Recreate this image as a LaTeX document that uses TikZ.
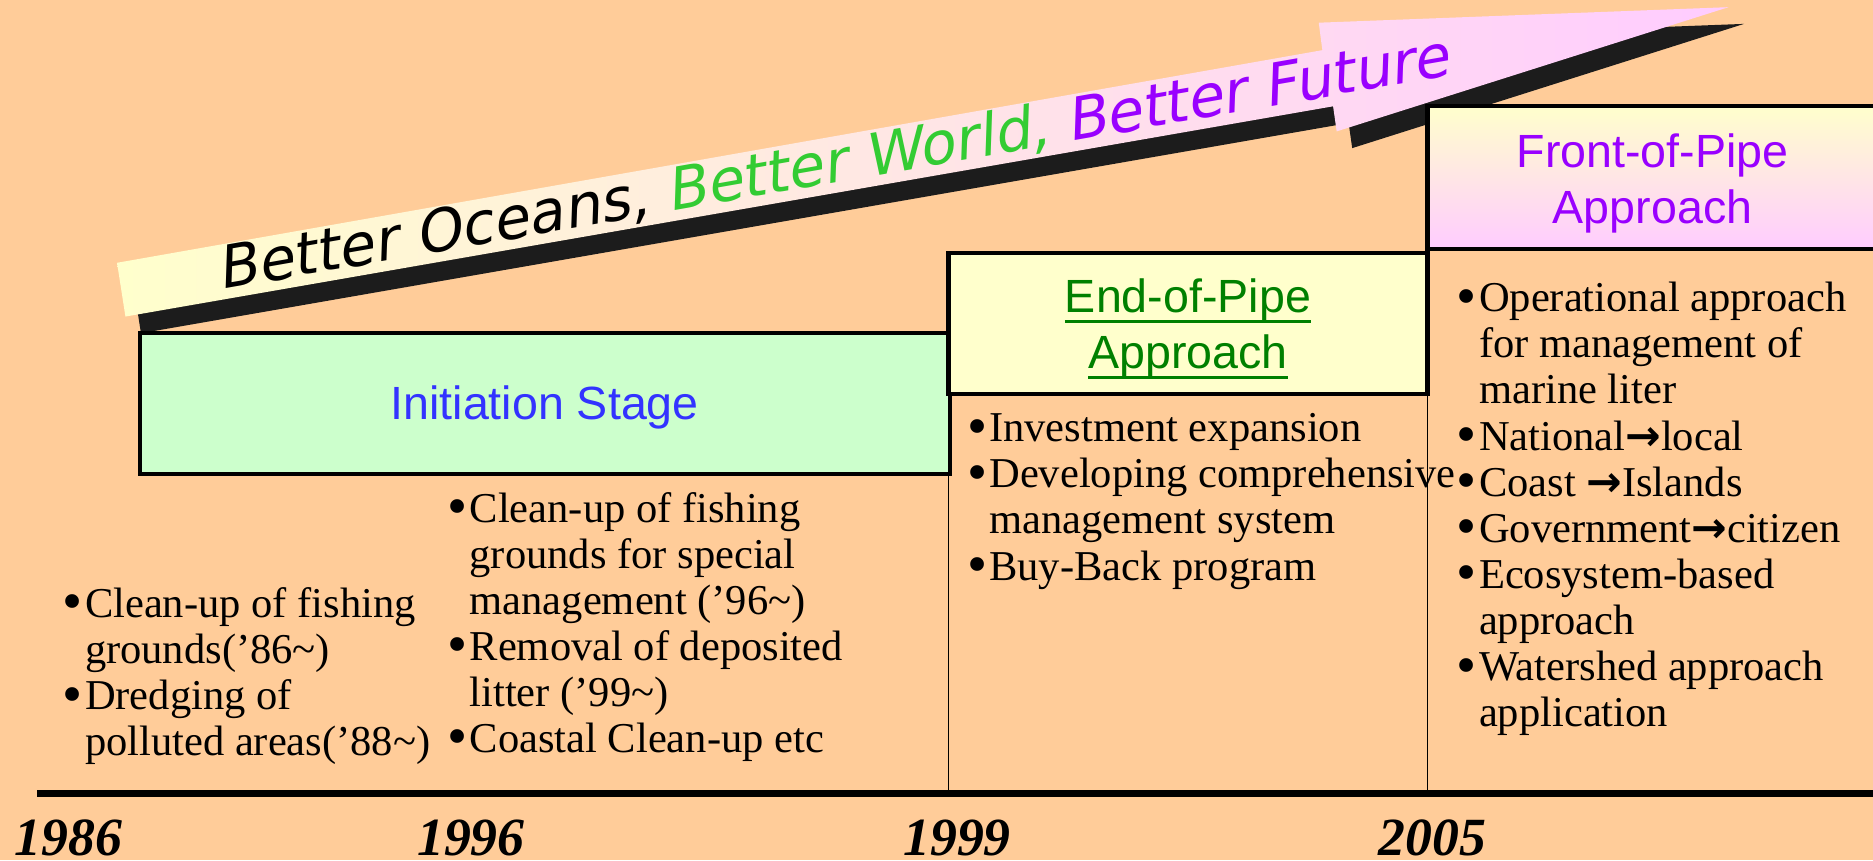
\documentclass[tikz,border=0pt]{standalone}
\usepackage{fontspec}
\setmainfont{Liberation Serif}
\newfontfamily\labelfont{Liberation Sans}
\newfontfamily\mottofont[FakeSlant=0.21]{DejaVu Sans}
\newfontfamily\arrowfont{DejaVu Sans}
\usetikzlibrary{positioning}
\definecolor{peach}{HTML}{FFCC99}
\definecolor{mintgreen}{HTML}{CCFFCC}
\definecolor{creamyellow}{HTML}{FFFFCC}
\definecolor{palepink}{HTML}{FFCCFF}
\definecolor{stageblue}{HTML}{3333FF}
\definecolor{pipegreen}{HTML}{008000}
\definecolor{pipepurple}{HTML}{9900FF}
\definecolor{worldgreen}{HTML}{33CC33}
\definecolor{shadowgray}{HTML}{1C1C1C}
\newcommand{\bul}{\makebox[17pt][l]{\hspace{-1.5pt}\raisebox{-0.08em}{\scalebox{1.35}{\textbullet}}}}
\newcommand{\ind}{\hspace*{17pt}}
\newcommand{\toarrow}{{\arrowfont\bfseries →}}
\newcommand{\uln}[1]{\setbox0=\hbox{#1}\rlap{\rule[-8.75pt]{\wd0}{2.5pt}}\box0}
\begin{document}
\begin{tikzpicture}[
		x=1pt, y=-1pt,
		stagebox/.style={draw, line width=3.5pt, inner sep=0pt, outer sep=0pt, anchor=north west},
		stagelabel/.style={inner sep=0pt, align=center, font=\labelfont\fontsize{39}{47}\selectfont},
		bullets/.style={anchor=base west, inner sep=0pt, font=\fontsize{35.6}{38.6}\selectfont},
		year/.style={anchor=base west, inner sep=0pt, font=\bfseries\itshape\fontsize{45}{45}\selectfont}
	]
	\useasboundingbox (0,0) rectangle (1568,720);
	\clip (0,0) rectangle (1568,720);
	\fill[peach] (0,0) rectangle (1568,720);

	\fill[shadowgray, shift={(13,14)}] (98,220) -- (1107,42) -- (1104,19) -- (1447,6)
		-- (1119,110) -- (1116,89) -- (105,265) -- cycle;
	\path[left color=creamyellow, right color=palepink] (98,220) -- (1107,42) -- (1104,19) -- (1447,6)
		-- (1119,110) -- (1116,89) -- (105,265) -- cycle;
	\node[anchor=base west, rotate=9.9, inner sep=0pt, font=\mottofont\fontsize{49}{49}\selectfont]
		(motto) at (184.6,242.8) {Better Oceans, \textcolor{worldgreen}{Better World,} \textcolor{pipepurple}{Better Future}};

	\coordinate (tl0) at (31,664.5);
	\coordinate (tl1) at (1568,664.5);

	\node[stagebox, top color=creamyellow, bottom color=palepink,
		minimum width=377pt, minimum height=120pt] (frontpipe) at (1195,88.5) {};
	\node[stagebox, fill=mintgreen,
		minimum width=678pt, minimum height=118pt] (init) at (117,279) {};
	\node[stagebox, fill=creamyellow,
		minimum width=401pt, minimum height=118pt] (endpipe) at (794,211.5) {};
	\node[stagelabel, text=pipepurple] (frontlabel) at ([yshift=-5pt]frontpipe.center) {Front-of-Pipe\\Approach};
	\node[stagelabel, text=stageblue] (initlabel) at ([yshift=-3pt]init.center) {Initiation Stage};
	\node[stagelabel, text=pipegreen] (endlabel) at ([yshift=-5pt]endpipe.center) {\uln{End-of-Pipe}\\\uln{Approach}};

	\draw[line width=1.5pt] (endpipe.south west) -- (endpipe.south west |- tl0);
	\draw[line width=1.5pt] (frontpipe.south west) -- (frontpipe.south west |- tl0);
	\draw[line width=6pt] (tl0) -- (tl1);

	\node[bullets] (items86) at (54,517) {\begin{tabular}[t]{@{}l@{}}
			\bul Clean-up of fishing\\
			\ind grounds(’86\textasciitilde)\\
			\bul Dredging of\\
			\ind polluted areas(’88\textasciitilde)
		\end{tabular}};
	\node[bullets] (items96) at (376,437) {\begin{tabular}[t]{@{}l@{}}
			\bul Clean-up of fishing\\
			\ind grounds for special\\
			\ind management (’96\textasciitilde)\\
			\bul Removal of deposited\\
			\ind litter (’99\textasciitilde)\\
			\bul Coastal Clean-up etc
		\end{tabular}};
	\node[bullets] (items99) at (811,369.8) {\begin{tabular}[t]{@{}l@{}}
			\bul Investment expansion\\
			\bul Developing comprehensive\\
			\ind management system\\
			\bul Buy-Back program
		\end{tabular}};
	\node[bullets] (items05) at (1221,261) {\begin{tabular}[t]{@{}l@{}}
			\bul Operational approach\\
			\ind for management of\\
			\ind marine liter\\
			\bul National\toarrow local\\
			\bul Coast \toarrow Islands\\
			\bul Government\toarrow citizen\\
			\bul Ecosystem-based\\
			\ind approach\\
			\bul Watershed approach\\
			\ind application
		\end{tabular}};

	\node[year] (y86) at (12,716) {1986};
	\node[year] (y96) at (349,716) {1996};
	\node[year] (y99) at (756,716) {1999};
	\node[year] (y05) at (1154,716) {2005};
\end{tikzpicture}
\end{document}
